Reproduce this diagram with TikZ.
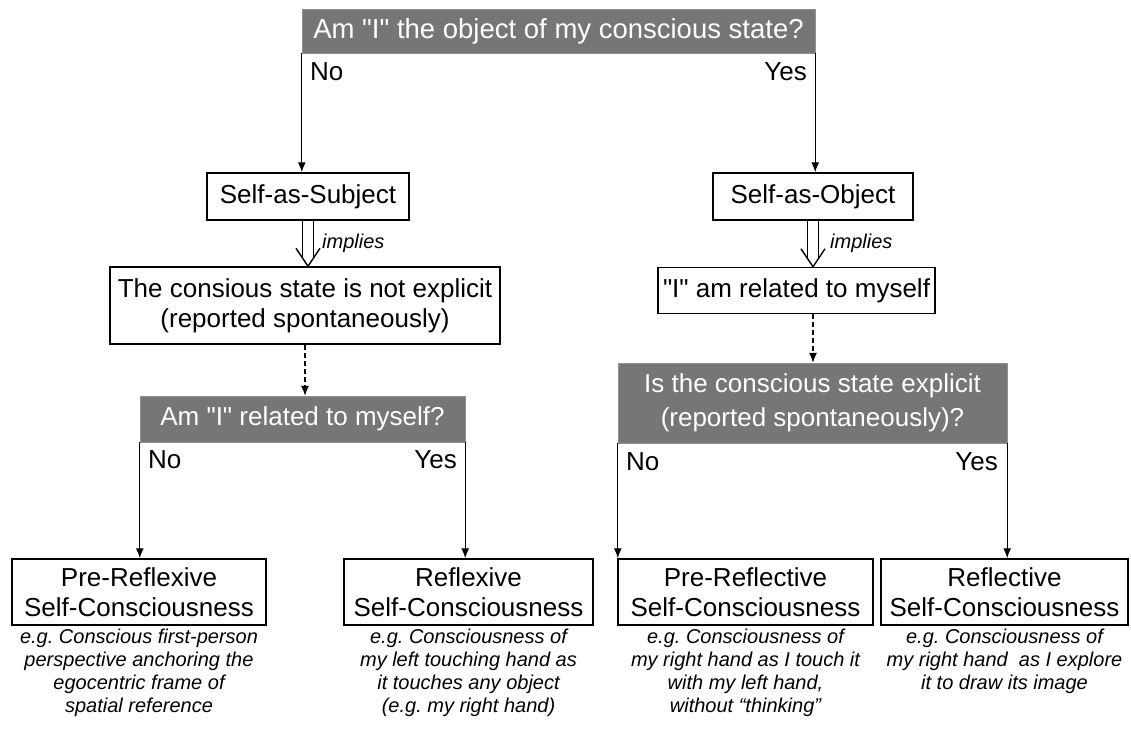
\documentclass[tikz,border=0pt]{standalone}
\usepackage{fontspec}
\setmainfont{Liberation Sans}[Ligatures=TeXOff]
\usetikzlibrary{arrows.meta}
\definecolor{qgray}{RGB}{118,118,118}
\frenchspacing
\begin{document}
\begin{tikzpicture}[x=1pt,y=-1pt,
  qbox/.style={fill=qgray,draw=qgray!80,text=white,inner sep=0pt,align=center,font=\fontsize{26}{34}\selectfont},
  tbox/.style={draw=black,line width=1.5pt,fill=white,inner sep=0pt,align=center,font=\fontsize{26}{30}\selectfont},
  lbl/.style={inner sep=0pt,font=\fontsize{26}{30}\selectfont},
  desc/.style={inner sep=0pt,align=center,font=\fontsize{20}{23}\selectfont\itshape},
  conn/.style={line width=1.3pt,-{Latex[length=10pt,width=8pt]}},
  dconn/.style={line width=1.3pt,dashed,dash pattern=on 5pt off 3pt,-{Latex[length=10pt,width=8pt]}},
  impl/.style={line width=1.4pt},
  small/.style={inner sep=0pt,font=\fontsize{20}{23}\selectfont\itshape}
]
\useasboundingbox (0,0) rectangle (1131,732);
% question boxes
\node[qbox,minimum width=513pt,minimum height=44pt,font=\fontsize{27.5}{34}\selectfont] (q1) at (558.5,31) {Am "I" the object of my conscious state?};
\node[lbl,anchor=west] (no1) at (310,72) {No};
\node[lbl,anchor=east] (yes1) at (807,72) {Yes};
% level 1
\node[tbox,minimum width=202pt,minimum height=47pt] (subj) at (308,196.5) {Self-as-Subject};
\node[tbox,minimum width=200pt,minimum height=47pt] (obj) at (813,196.5) {Self-as-Object};
\node[tbox,minimum width=390pt,minimum height=77pt] (nexp) at (305,305.5) {The consious state is not explicit\\(reported spontaneously)};
\node[tbox,minimum width=277pt,minimum height=46pt] (rel) at (796.5,290.5) {"I" am related to myself};
\node[small,anchor=west] (imp1) at (322,243) {implies};
\node[small,anchor=west] (imp2) at (830,243) {implies};
% second questions
\node[qbox,minimum width=325pt,minimum height=46pt] (q2) at (302.5,419) {Am "I" related to myself?};
\node[lbl,anchor=west] (no2) at (148,460) {No};
\node[lbl,anchor=east] (yes2) at (457,460) {Yes};
\node[qbox,minimum width=389pt,minimum height=80pt] (q3) at (812.5,403) {Is the conscious state explicit\\(reported spontaneously)?};
\node[lbl,anchor=west] (no3) at (626,462) {No};
\node[lbl,anchor=east] (yes3) at (998,462) {Yes};
% bottom boxes
\node[tbox,minimum width=254pt,minimum height=66pt] (b1) at (139,592) {Pre-Reflexive\\Self-Consciousness};
\node[tbox,minimum width=249pt,minimum height=66pt] (b2) at (468.5,592) {Reflexive\\Self-Consciousness};
\node[tbox,minimum width=255pt,minimum height=66pt] (b3) at (745.5,592) {Pre-Reflective\\Self-Consciousness};
\node[tbox,minimum width=247pt,minimum height=66pt] (b4) at (1004.5,592) {Reflective\\Self-Consciousness};
% descriptions
\node[desc,anchor=north] (d1) at ([yshift=-3pt]b1.south) {e.g. Conscious first-person\\perspective anchoring the\\egocentric frame of\\spatial reference};
\node[desc,anchor=north] (d2) at ([yshift=-3pt]b2.south) {e.g. Consciousness of\\my left touching hand as\\it touches any object\\(e.g. my right hand)};
\node[desc,anchor=north] (d3) at ([yshift=-3pt]b3.south) {e.g. Consciousness of\\my right hand as I touch it\\with my left hand,\\without “thinking”};
\node[desc,anchor=north] (d4) at ([yshift=-3pt]b4.south) {e.g. Consciousness of\\my right hand\ \ as I explore\\it to draw its image};
% connectors
\draw[conn] (q1.south west) -- (q1.south west |- subj.north);
\draw[conn] (q1.south east) -- (q1.south east |- obj.north);
% implies arrows (double shaft, open head)
\coordinate (t1) at (subj.south |- nexp.north);
\coordinate (t2) at (obj.south |- rel.north);
\draw[impl] ([xshift=-5.5pt]subj.south) -- ([xshift=-5.5pt,yshift=8pt]t1);
\draw[impl] ([xshift=5.5pt]subj.south) -- ([xshift=5.5pt,yshift=8pt]t1);
\draw[impl] ([xshift=-12pt,yshift=18pt]t1) -- (t1) -- ([xshift=12pt,yshift=18pt]t1);
\draw[impl] ([xshift=-5.5pt]obj.south) -- ([xshift=-5.5pt,yshift=8pt]t2);
\draw[impl] ([xshift=5.5pt]obj.south) -- ([xshift=5.5pt,yshift=8pt]t2);
\draw[impl] ([xshift=-12pt,yshift=18pt]t2) -- (t2) -- ([xshift=12pt,yshift=18pt]t2);
\draw[dconn] (nexp.south) -- (nexp.south |- q2.north);
\draw[dconn] (obj.south |- rel.south) -- (obj.south |- q3.north);
\draw[conn] (q2.south west) -- (q2.south west |- b1.north);
\draw[conn] (q2.south east) -- (q2.south east |- b2.north);
\draw[conn] (q3.south west) -- (q3.south west |- b3.north);
\draw[conn] (q3.south east) -- (q3.south east |- b4.north);
\end{tikzpicture}
\end{document}
